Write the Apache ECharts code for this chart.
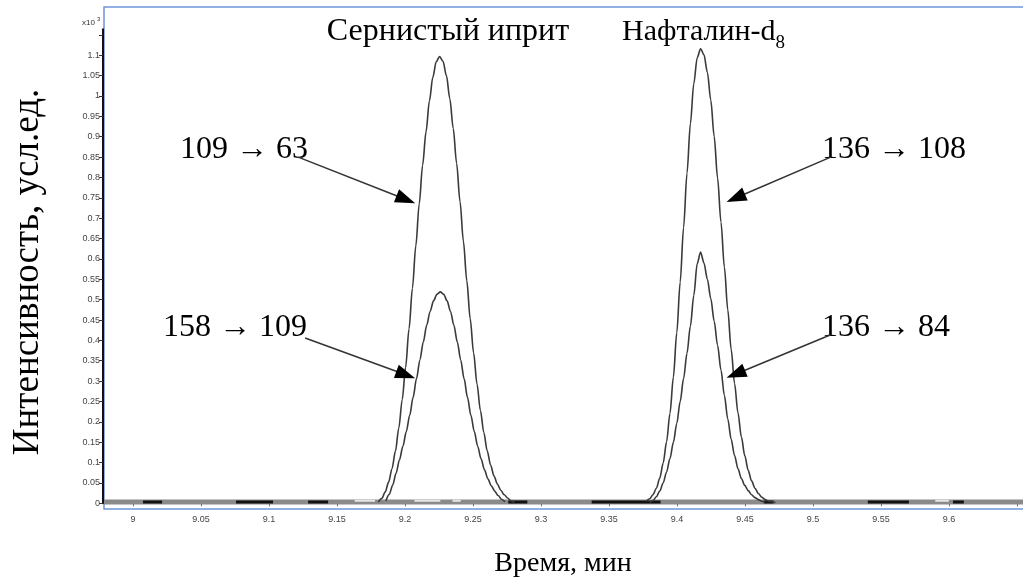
<!DOCTYPE html>
<html>
<head>
<meta charset="utf-8">
<script src="https://cdn.jsdelivr.net/npm/echarts@6/dist/echarts.min.js"></script>
<style>
  html, body { margin: 0; padding: 0; background: #fff; }
  #chart { width: 1023px; height: 585px; }
</style>
</head>
<body>
<div id="chart"></div>
<script>
// Time window (min) and intensity range (x10^3 counts)
const timeMin = 8.9787;
const timeMax = 9.6545;
const intensityMax = 1.1638;

const xTickValues = [9, 9.05, 9.1, 9.15, 9.2, 9.25, 9.3, 9.35, 9.4, 9.45, 9.5, 9.55, 9.6, 9.65];
const xLabelValues = [9, 9.05, 9.1, 9.15, 9.2, 9.25, 9.3, 9.35, 9.4, 9.45, 9.5, 9.55, 9.6];
const yTickValues = [0, 0.05, 0.1, 0.15, 0.2, 0.25, 0.3, 0.35, 0.4, 0.45, 0.5, 0.55, 0.6, 0.65,
  0.7, 0.75, 0.8, 0.85, 0.9, 0.95, 1, 1.05, 1.1, 1.15];
const yLabelValues = [0, 0.05, 0.1, 0.15, 0.2, 0.25, 0.3, 0.35, 0.4, 0.45, 0.5, 0.55, 0.6, 0.65,
  0.7, 0.75, 0.8, 0.85, 0.9, 0.95, 1, 1.05, 1.1];

// MRM transitions: [time, intensity]
const trace109to63 = [
  [9.1805, 0.003], [9.1830, 0.012], [9.1855, 0.028], [9.1880, 0.052], [9.1905, 0.085],
  [9.1930, 0.128], [9.1955, 0.185], [9.1980, 0.255], [9.2005, 0.334], [9.2030, 0.428],
  [9.2055, 0.528], [9.2080, 0.632], [9.2105, 0.735], [9.2130, 0.830], [9.2155, 0.912],
  [9.2180, 0.988], [9.2205, 1.046], [9.2230, 1.084], [9.2255, 1.097], [9.2280, 1.085],
  [9.2305, 1.050], [9.2330, 0.994], [9.2355, 0.921], [9.2380, 0.835], [9.2405, 0.741],
  [9.2430, 0.643], [9.2455, 0.546], [9.2480, 0.453], [9.2505, 0.369], [9.2530, 0.293],
  [9.2555, 0.228], [9.2580, 0.174], [9.2605, 0.129], [9.2630, 0.094], [9.2655, 0.067],
  [9.2680, 0.047], [9.2705, 0.032], [9.2730, 0.021], [9.2755, 0.013], [9.2780, 0.006],
  [9.2805, 0.002]
];
const trace158to109 = [
  [9.1860, 0.006], [9.1885, 0.022], [9.1910, 0.045], [9.1935, 0.074], [9.1960, 0.107],
  [9.1985, 0.140], [9.2010, 0.176], [9.2035, 0.216], [9.2060, 0.260], [9.2085, 0.306],
  [9.2110, 0.352], [9.2135, 0.396], [9.2160, 0.437], [9.2185, 0.471], [9.2210, 0.497],
  [9.2235, 0.513], [9.2260, 0.519], [9.2285, 0.513], [9.2310, 0.497], [9.2335, 0.471],
  [9.2360, 0.437], [9.2385, 0.396], [9.2410, 0.352], [9.2435, 0.306], [9.2460, 0.260],
  [9.2485, 0.216], [9.2510, 0.176], [9.2535, 0.140], [9.2560, 0.109], [9.2585, 0.082],
  [9.2610, 0.060], [9.2635, 0.043], [9.2660, 0.030], [9.2685, 0.019], [9.2710, 0.010],
  [9.2735, 0.004]
];
const trace136to108 = [
  [9.3774, 0.005], [9.3799, 0.011], [9.3824, 0.021], [9.3849, 0.037], [9.3874, 0.062],
  [9.3899, 0.099], [9.3924, 0.151], [9.3949, 0.221], [9.3974, 0.310], [9.3999, 0.419],
  [9.4024, 0.543], [9.4049, 0.677], [9.4074, 0.810], [9.4099, 0.932], [9.4124, 1.030],
  [9.4149, 1.094], [9.4174, 1.116], [9.4199, 1.101], [9.4224, 1.058], [9.4249, 0.990],
  [9.4274, 0.901], [9.4299, 0.799], [9.4324, 0.690], [9.4349, 0.580], [9.4374, 0.475],
  [9.4399, 0.378], [9.4424, 0.294], [9.4449, 0.222], [9.4474, 0.163], [9.4499, 0.117],
  [9.4524, 0.081], [9.4549, 0.055], [9.4574, 0.037], [9.4599, 0.024], [9.4624, 0.015],
  [9.4649, 0.009], [9.4674, 0.005], [9.4724, 0.002]
];
const trace136to84 = [
  [9.3799, 0.002], [9.3824, 0.007], [9.3849, 0.016], [9.3874, 0.030], [9.3899, 0.050],
  [9.3924, 0.077], [9.3949, 0.110], [9.3974, 0.150], [9.3999, 0.196], [9.4024, 0.250],
  [9.4049, 0.306], [9.4074, 0.368], [9.4099, 0.435], [9.4124, 0.510], [9.4149, 0.588],
  [9.4174, 0.617], [9.4199, 0.590], [9.4224, 0.550], [9.4249, 0.503], [9.4274, 0.447],
  [9.4299, 0.388], [9.4324, 0.327], [9.4349, 0.265], [9.4374, 0.207], [9.4399, 0.157],
  [9.4424, 0.117], [9.4449, 0.085], [9.4474, 0.061], [9.4499, 0.044], [9.4524, 0.031],
  [9.4549, 0.021], [9.4574, 0.014], [9.4599, 0.009], [9.4624, 0.005], [9.4649, 0.002]
];

// Baseline noise pieces of the remaining transitions (start, end in min)
const darkNoise = [[9.0074, 9.0214], [9.0758, 9.1030], [9.1288, 9.1435], [9.2760, 9.2900],
  [9.3373, 9.3880], [9.4639, 9.4710], [9.5404, 9.5706], [9.6030, 9.6110]];
const lightNoise = [[9.1630, 9.1780], [9.2070, 9.2260], [9.2350, 9.2410], [9.5900, 9.6000]];

// Peak annotations
const compoundNames = ['Сернистый иприт', 'Нафталин-d'];
const transitionLabels = ['109 → 63', '158 → 109', '136 → 108', '136 → 84'];
const arrows = [
  { from: [9.1215, 0.850], to: [9.2075, 0.737] },
  { from: [9.1266, 0.406], to: [9.2075, 0.307] },
  { from: [9.5131, 0.850], to: [9.4365, 0.740] },
  { from: [9.5131, 0.414], to: [9.4365, 0.308] }
];

function segmentsToData(segs, level) {
  const out = [];
  segs.forEach(function (s) {
    out.push([s[0], level], [s[1], level], ['-', '-']);
  });
  return out;
}

const chart = echarts.init(document.getElementById('chart'), null, { renderer: 'canvas' });

const traceStyle = { color: '#3a3a3a', width: 1.6 };
function traceSeries(name, data) {
  return {
    name: name, type: 'line', xAxisIndex: 1, yAxisIndex: 1, data: data,
    showSymbol: false, smooth: 0.3, smoothMonotone: 'x', clip: false, animation: false,
    lineStyle: traceStyle, z: 5
  };
}

const option = {
  animation: false,
  backgroundColor: '#fff',
  grid: [
    { left: 104, right: -10, top: 7, bottom: 76, show: true, borderColor: '#6f95dc',
      borderWidth: 1.5, backgroundColor: 'transparent', outerBoundsMode: 'none' },
    { left: 104, right: 0, top: 29.3, bottom: 81.7, outerBoundsMode: 'none' }
  ],
  xAxis: [
    { gridIndex: 0, type: 'value', show: false, min: 0, max: 1 },
    {
      gridIndex: 1, type: 'value', min: timeMin, max: timeMax, offset: 7,
      axisLine: { show: false },
      axisTick: { show: true, customValues: xTickValues, length: 3, lineStyle: { color: '#666' } },
      axisLabel: {
        show: true, customValues: xLabelValues, margin: 5, fontSize: 9,
        fontFamily: 'Liberation Sans', color: '#444',
        formatter: function (v) { return String(Math.round(v * 100) / 100); }
      },
      splitLine: { show: false }
    }
  ],
  yAxis: [
    { gridIndex: 0, type: 'value', show: false, min: 0, max: 1 },
    {
      gridIndex: 1, type: 'value', min: 0, max: intensityMax, offset: 1,
      axisLine: { show: true, lineStyle: { color: '#111', width: 2 } },
      axisTick: { show: true, customValues: yTickValues, length: 4, lineStyle: { color: '#333' } },
      axisLabel: {
        show: true, customValues: yLabelValues, margin: 3, fontSize: 9,
        fontFamily: 'Liberation Sans', color: '#444',
        formatter: function (v) { return String(Math.round(v * 100) / 100); }
      },
      splitLine: { show: false }
    }
  ],
  series: [
    {
      name: 'baseline', type: 'line', xAxisIndex: 1, yAxisIndex: 1,
      data: [[timeMin, 0.003], [timeMax, 0.003]], showSymbol: false, clip: false,
      lineStyle: { color: '#8a8a8a', width: 5 }, z: 2
    },
    {
      name: 'noise-dark', type: 'line', xAxisIndex: 1, yAxisIndex: 1,
      data: segmentsToData(darkNoise, 0.003), showSymbol: false, clip: false, connectNulls: false,
      lineStyle: { color: '#111', width: 3 }, z: 3
    },
    {
      name: 'noise-light', type: 'line', xAxisIndex: 1, yAxisIndex: 1,
      data: segmentsToData(lightNoise, 0.006), showSymbol: false, clip: false, connectNulls: false,
      lineStyle: { color: '#e6e6e6', width: 2 }, z: 3
    },
    traceSeries('109 → 63', trace109to63),
    traceSeries('158 → 109', trace158to109),
    traceSeries('136 → 108', trace136to108),
    traceSeries('136 → 84', trace136to84)
  ]
};

chart.setOption(option);

// Annotations: compound names, transition labels, arrows
const serif = '"Liberation Serif", "Times New Roman", serif';
const measureCtx = document.createElement('canvas').getContext('2d');
measureCtx.font = '30px ' + serif;
const naphWidth = measureCtx.measureText(compoundNames[1]).width;

function label(text, x, y, size, align) {
  return {
    type: 'text', x: x, y: y, z: 10,
    style: { text: text, font: size + 'px ' + serif, fill: '#000', textAlign: align || 'left', textVerticalAlign: 'middle' }
  };
}

const graphics = [
  { type: 'text', x: 82, y: 23, style: { text: 'x10', font: '8px "Liberation Sans"', fill: '#333', textVerticalAlign: 'middle' } },
  { type: 'text', x: 97, y: 19, style: { text: '3', font: '6px "Liberation Sans"', fill: '#333', textVerticalAlign: 'middle' } },
  label(compoundNames[0], 448, 32, 32, 'center'),
  label(compoundNames[1], 622, 32, 30, 'left'),
  label('8', 622 + naphWidth, 43, 19, 'left'),
  label(transitionLabels[0], 180, 150, 32),
  label(transitionLabels[1], 163, 328, 32),
  label(transitionLabels[2], 822, 150, 32),
  label(transitionLabels[3], 822, 328, 32),
  { type: 'text', x: 28, y: 272, rotation: Math.PI / 2, z: 10,
    style: { text: 'Интенсивность, усл.ед.', font: '37px ' + serif, fill: '#000', textAlign: 'center', textVerticalAlign: 'middle' } },
  label('Время, мин', 563, 564, 28, 'center')
];

const headLen = 20, headHalf = 7;
arrows.forEach(function (a) {
  const p0 = chart.convertToPixel({ gridIndex: 1 }, a.from);
  const p1 = chart.convertToPixel({ gridIndex: 1 }, a.to);
  const dx = p1[0] - p0[0], dy = p1[1] - p0[1];
  const len = Math.sqrt(dx * dx + dy * dy);
  const ux = dx / len, uy = dy / len;
  const bx = p1[0] - ux * headLen, by = p1[1] - uy * headLen;
  graphics.push({
    type: 'line', z: 10,
    shape: { x1: p0[0], y1: p0[1], x2: bx + ux * 2, y2: by + uy * 2 },
    style: { stroke: '#333', lineWidth: 1.5 }
  });
  graphics.push({
    type: 'polygon', z: 10,
    shape: { points: [[p1[0], p1[1]], [bx - uy * headHalf, by + ux * headHalf], [bx + uy * headHalf, by - ux * headHalf]] },
    style: { fill: '#000' }
  });
});

chart.setOption({ graphic: graphics });
</script>
</body>
</html>
